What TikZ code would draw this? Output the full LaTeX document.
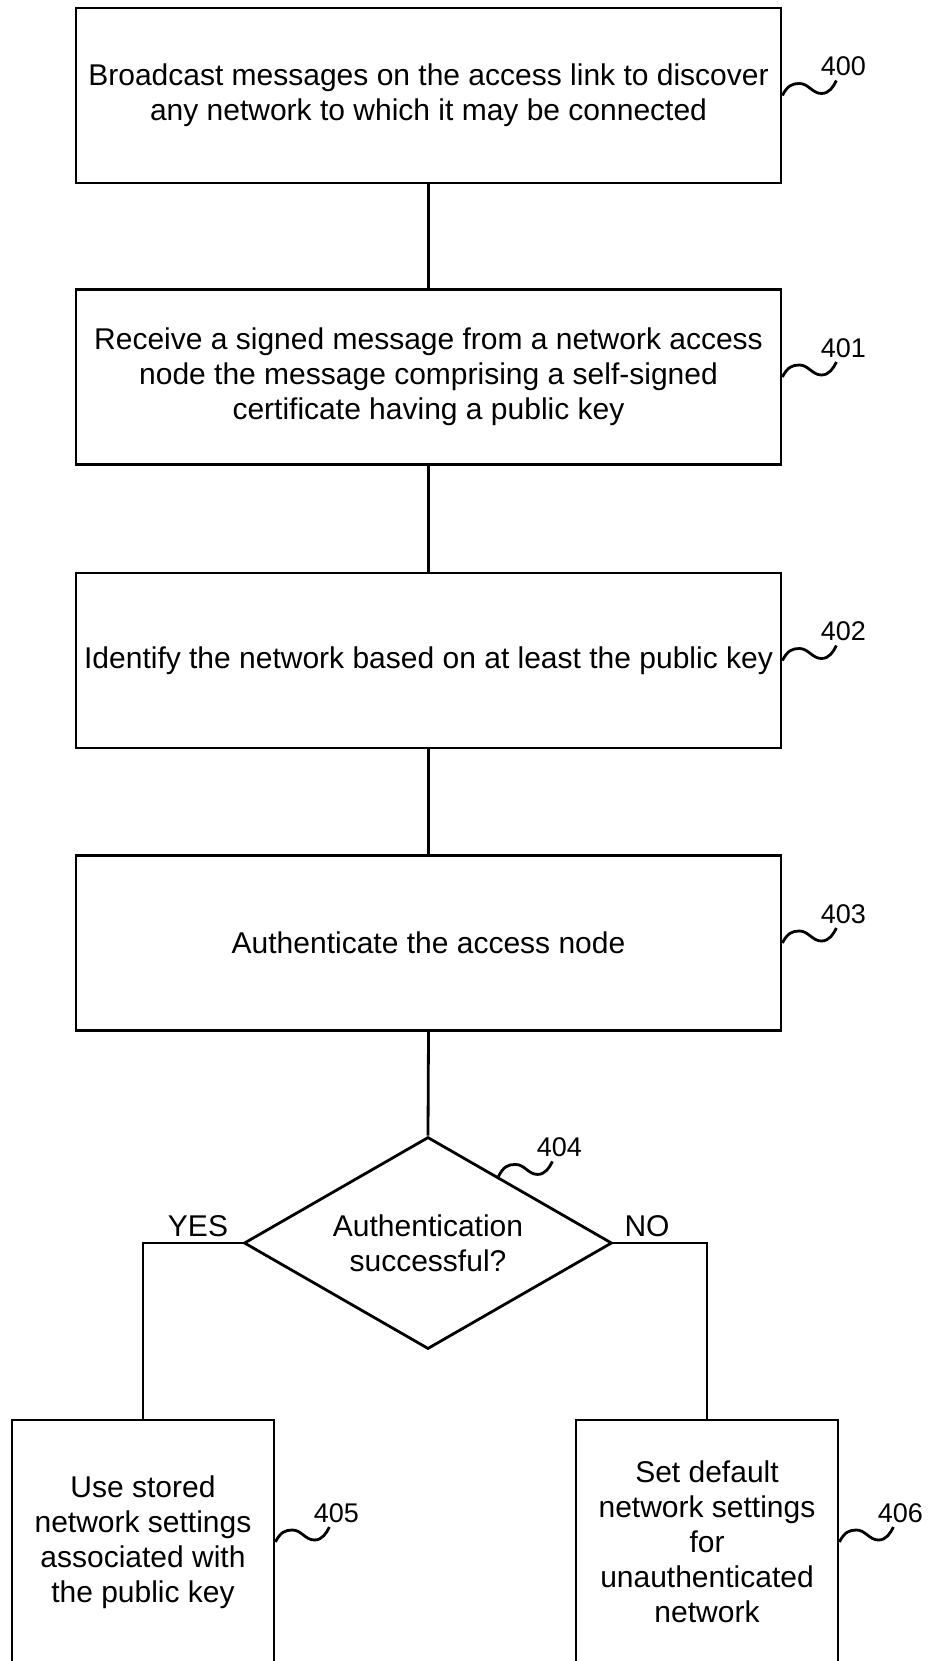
\documentclass[tikz,border=0pt]{standalone}
\usepackage{fontspec}
\setmainfont{Liberation Sans}
\usetikzlibrary{shapes.geometric}
\usetikzlibrary{calc}

\tikzset{
  stepbox/.style={draw, line width=2.8pt, minimum width=705pt, minimum height=175pt, align=center, inner sep=0pt},
  endbox/.style={draw, line width=2.8pt, minimum width=262pt, minimum height=244pt, align=center, inner sep=0pt},
  decision/.style={draw, diamond, aspect=1.74, line width=2.8pt, minimum width=368pt, minimum height=212pt, align=center, inner sep=0pt},
  tag/.style={anchor=base west, inner sep=0pt, xshift=-17pt, yshift=5pt, font=\fontsize{27}{32}\selectfont}
}
\newcommand{\refwave}[2]{\draw (#1) .. controls +(5,-10) and +(-7,0) .. ++(17,-12) .. controls +(9,0) and +(-9,0) .. ++(22,10) .. controls +(8,0) and +(-3,6) .. ++(15,-13) node[tag] (n#2) {#2};}

\begin{document}
\begin{tikzpicture}[x=1pt, y=-1pt, line width=2.8pt, font=\fontsize{30}{35}\selectfont]
  \useasboundingbox (0,0) rectangle (927,1661);
  \clip (0,0) rectangle (927,1661);
  \node[stepbox] (b400) at (428.5,95.5) {Broadcast messages on the access link to discover\\any network to which it may be connected};
  \node[stepbox] (b401) at (428.5,377) {Receive a signed message from a network access\\node the message comprising a self-signed\\certificate having a public key};
  \node[stepbox] (b402) at (428.5,660.5) {Identify the network based on at least the public key};
  \node[stepbox] (b403) at (428.5,943) {Authenticate the access node};
  \node[decision] (dec) at (428,1243) {Authentication\\successful?};
  \node[endbox] (b405) at (143,1542) {Use stored\\network settings\\associated with\\the public key};
  \node[endbox] (b406) at (707,1542) {Set default\\network settings\\for\\unauthenticated\\network};
  \node (yes) at (198,1226) {YES};
  \node (no) at (647,1226) {NO};
  \draw (b400.south) -- (b401.north);
  \draw (b401.south) -- (b402.north);
  \draw (b402.south) -- (b403.north);
  \draw (b403.south) -- (dec.north);
  \draw (dec.west) -| (b405.north);
  \draw (dec.east) -| (b406.north);
  \refwave{b400.east}{400}
  \refwave{b401.east}{401}
  \refwave{b402.east}{402}
  \refwave{b403.east}{403}
  \refwave{$(dec.north)!0.38!(dec.east)$}{404}
  \refwave{b405.east}{405}
  \refwave{b406.east}{406}
\end{tikzpicture}
\end{document}
